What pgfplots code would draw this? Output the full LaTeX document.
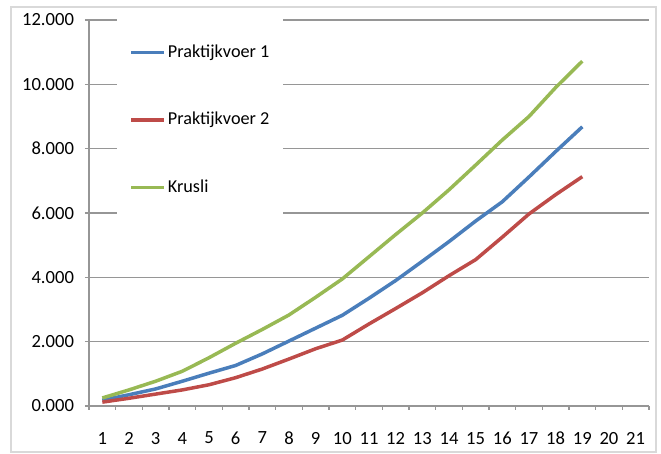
\documentclass[border=0pt]{standalone}
\usepackage{fontspec}
\setmainfont{Carlito}
\usepackage{pgfplots}
\pgfplotsset{compat=1.18}
\definecolor{pblue}{HTML}{4A7EBB}
\definecolor{pred}{HTML}{BE4B48}
\definecolor{pgreen}{HTML}{98B954}
\definecolor{gridgray}{HTML}{969696}
\begin{document}
\begin{tikzpicture}
\path[use as bounding box] (0,0) rectangle (330.5pt,227pt);
\draw[color=black!15, line width=1pt] (5.5pt,1pt) rectangle (328pt,223.5pt);
\begin{axis}[
  at={(44.5pt,24pt)}, anchor=south west,
  scale only axis, width=280pt, height=193pt,
  xmin=0.5, xmax=21.5, ymin=0, ymax=12,
  axis x line*=bottom, axis y line*=left,
  axis line style={gridgray, line width=0.65pt},
  xtick={1,...,21},
  major x tick style={draw=none},
  minor xtick={0.5,1.5,...,21.5},
  ytick={0,2,4,6,8,10,12},
  yticklabels={0.000,2.000,4.000,6.000,8.000,10.000,12.000},
  tick align=outside,
  tick style={gridgray, line width=0.65pt},
  major tick length=2pt, minor tick length=2pt,
  ymajorgrids, grid style={gridgray, line width=0.65pt},
  tick label style={font=\fontsize{9.3}{11}\selectfont},
  xticklabel style={yshift=-7.5pt},
  yticklabel style={xshift=-2pt},
  /pgf/number format/assume math mode=true,
  legend cell align=left,
  legend style={at={(axis description cs:0.05,1.005)}, anchor=north west,
    draw=none, fill=white, font=\fontsize{9.1}{11}\selectfont,
    row sep=22pt, inner xsep=6pt, inner ysep=11pt,
    nodes={inner xsep=1pt}},
  legend image code/.code={\draw[#1] (0pt,0pt) -- (16.5pt,0pt);},
  every axis plot/.append style={line width=1.75pt, line join=round},
]
\addplot[pblue] coordinates {
(1,0.18) (2,0.35) (3,0.53) (4,0.77) (5,1.02) (6,1.26) (7,1.62) (8,2.02) (9,2.42) (10,2.82)
(11,3.35) (12,3.90) (13,4.50) (14,5.11) (15,5.75) (16,6.35) (17,7.12) (18,7.91) (19,8.68)};
\addlegendentry{Praktijkvoer 1}
\addplot[pred] coordinates {
(1,0.12) (2,0.24) (3,0.37) (4,0.50) (5,0.66) (6,0.88) (7,1.15) (8,1.46) (9,1.78) (10,2.05)
(11,2.55) (12,3.03) (13,3.52) (14,4.05) (15,4.55) (16,5.25) (17,5.97) (18,6.57) (19,7.13)};
\addlegendentry{Praktijkvoer 2}
\addplot[pgreen] coordinates {
(1,0.25) (2,0.50) (3,0.77) (4,1.08) (5,1.50) (6,1.95) (7,2.38) (8,2.83) (9,3.38) (10,3.95)
(11,4.64) (12,5.33) (13,6.00) (14,6.72) (15,7.49) (16,8.27) (17,9.00) (18,9.90) (19,10.72)};
\addlegendentry{Krusli}
\end{axis}
\end{tikzpicture}
\end{document}
